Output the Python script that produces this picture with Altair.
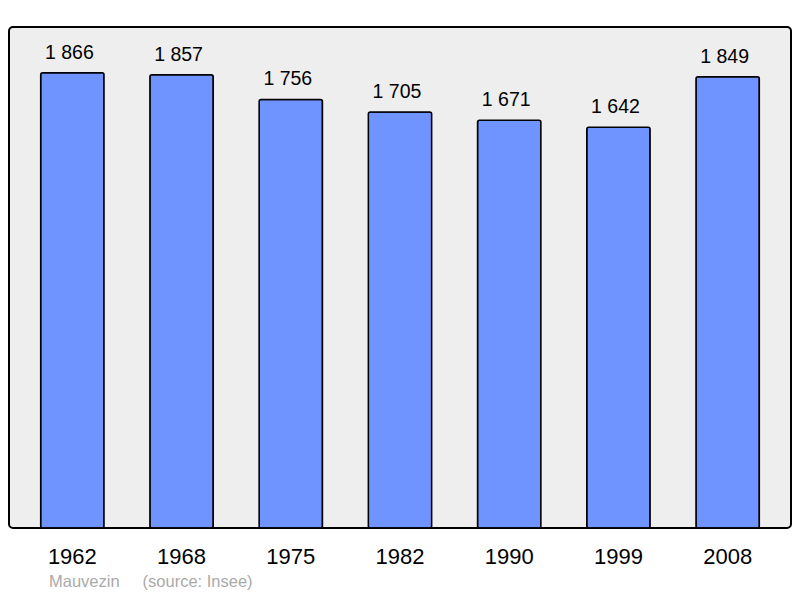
import altair as alt
import pandas as pd

years = ["1962", "1968", "1975", "1982", "1990", "1999", "2008"]
population = [1866, 1857, 1756, 1705, 1671, 1642, 1849]
labels = ["1 866", "1 857", "1 756", "1 705", "1 671", "1 642", "1 849"]

df = pd.DataFrame({"year": years, "pop": population, "label": labels})

FONT = "Liberation Sans"

x = alt.X("year:N", sort=years,
          scale=alt.Scale(paddingInner=0.42, paddingOuter=0.29),
          axis=alt.Axis(title=None, labelAngle=0, labelFontSize=22, labelFont=FONT,
                        labelColor="#000000", ticks=False, tickSize=0, domain=False,
                        labelBaseline="alphabetic", labelPadding=35))
y = alt.Y("pop:Q", scale=alt.Scale(domain=[0, 2053], nice=False, zero=True),
          axis=None)

bars = alt.Chart(df).mark_bar(color="#7094ff", stroke="#000000", strokeWidth=1.5,
                              cornerRadius=2).encode(x=x, y=y)
text = alt.Chart(df).mark_text(font=FONT, fontSize=19.5, dy=-14, dx=-3, baseline="alphabetic",
                               color="#000000").encode(x=x, y=y, text="label:N")

chart = (bars + text).properties(
    width=782, height=501,
    padding={"left": 1, "top": 19, "right": 1, "bottom": 62},
    autosize=alt.AutoSizeParams(type="none"),
    title=alt.TitleParams("Mauvezin\u00a0\u00a0\u00a0\u00a0\u00a0(source: Insee)", orient="bottom",
                          anchor="start", dx=40, offset=7, font=FONT, fontSize=16.5,
                          fontWeight="normal", color="#aaaaaa"),
).configure_view(fill="#eeeeee", stroke="#000000", strokeWidth=2, cornerRadius=4)

chart.save("out.html", embed_options={"renderer": "svg", "actions": False})
